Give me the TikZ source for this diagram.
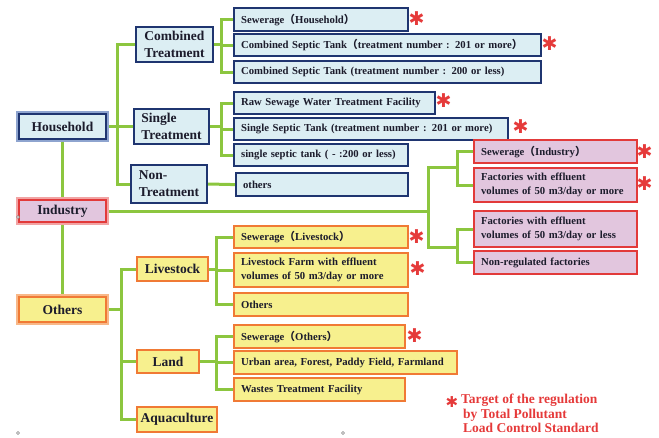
\documentclass[tikz,border=0pt]{standalone}
\usepackage{fontspec}
\usetikzlibrary{backgrounds}
\setmainfont{Liberation Serif}
\newfontfamily\cjk{Noto Sans CJK SC}
\newfontfamily\dejavu{DejaVu Sans}
\definecolor{bfill}{HTML}{DCEEF3}
\definecolor{bline}{HTML}{1F3570}
\definecolor{bhalo}{HTML}{8EA4CF}
\definecolor{pfill}{HTML}{E2C6DE}
\definecolor{pline}{HTML}{E23A3A}
\definecolor{phalo}{HTML}{F2A4A4}
\definecolor{yfill}{HTML}{F7F08E}
\definecolor{yline}{HTML}{F07A35}
\definecolor{yhalo}{HTML}{F8B888}
\definecolor{gr}{HTML}{8CC63F}
\definecolor{txt}{HTML}{1C1C2C}
\definecolor{ared}{HTML}{E53A3A}
\newcommand\fp[1]{{\cjk （}#1{\cjk ）}}
\tikzset{
  gline/.style={draw=gr, line width=3pt},
  boxbase/.style={line width=2.2pt, text=txt, font=\bfseries\fontsize{10.7}{13.5}\selectfont, inner xsep=7pt, inner ysep=0pt, align=left},
  bbox/.style={boxbase, draw=bline, fill=bfill},
  pbox/.style={boxbase, draw=pline, fill=pfill},
  ybox/.style={boxbase, draw=yline, fill=yfill},
  mainfont/.style={font=\bfseries\fontsize{13.5}{17}\selectfont, text=txt, inner sep=0pt, line width=2.4pt},
  topb/.style={mainfont, draw=bline, fill=bfill, preaction={draw=bhalo, line width=5.5pt}},
  topp/.style={mainfont, draw=pline, fill=pfill, preaction={draw=phalo, line width=5.5pt}},
  topy/.style={mainfont, draw=yline, fill=yfill, preaction={draw=yhalo, line width=5.5pt}},
  midb/.style={mainfont, draw=bline, fill=bfill, align=left},
  midy/.style={mainfont, draw=yline, fill=yfill, align=left},
  ast/.style={text=ared, font=\dejavu\bfseries\fontsize{19}{19}\selectfont, inner sep=0pt},
  handle/.style={draw=gray, line width=0.5pt, fill=white}
}
\newcommand\leaf[7]{%
  \pgfmathsetlengthmacro\tw{#4pt-14pt}%
  \node[#6, minimum width=#4pt, minimum height=#5pt, text width=\tw, anchor=north west] (#1) at (#2,#3) {#7};}
\begin{document}
\begin{tikzpicture}[x=1pt,y=-1pt]
\useasboundingbox (0,0) rectangle (659,437);
% top level
\node[topb, minimum width=87pt, minimum height=25pt] (HH) at (62.5,126.5) {Household};
\node[topp, minimum width=87pt, minimum height=22pt] (IN) at (62.5,211) {Industry};
\node[topy, minimum width=87pt, minimum height=25pt] (OT) at (62.5,309.5) {Others};
% second level
\node[midb, minimum width=77pt, minimum height=35pt] (CT) at (174.5,44.5) {Combined\\Treatment};
\node[midb, minimum width=75pt, minimum height=35pt] (ST) at (171.5,126.5) {Single\\Treatment};
\node[midb, minimum width=76pt, minimum height=38pt] (NT) at (169,184) {Non-\\Treatment};
\node[midy, minimum width=71pt, minimum height=24pt] (LV) at (172.5,269) {Livestock};
\node[midy, minimum width=62pt, minimum height=23pt] (LD) at (168,361.5) {Land};
\node[midy, minimum width=80pt, minimum height=25pt] (AQ) at (177,419.5) {Aquaculture};
% leaves
\leaf{c1}{233}{7}{174}{23}{bbox}{Sewerage\fp{Household}}
\leaf{c2}{233}{33}{307}{22}{bbox}{Combined Septic Tank\fp{treatment number : 201 or more}}
\leaf{c3}{233}{60}{307}{22}{bbox}{Combined Septic Tank (treatment number : 200 or less)}
\leaf{s1}{233}{91}{201}{22}{bbox}{Raw Sewage Water Treatment Facility}
\leaf{s2}{233}{117}{274}{22}{bbox}{Single Septic Tank (treatment number : 201 or more)}
\leaf{s3}{233}{143}{174}{22}{bbox}{single septic tank ( - :200 or less)}
\leaf{n1}{235}{172}{172}{23}{bbox}{others}
\leaf{i1}{473}{139}{163}{23}{pbox}{Sewerage\fp{Industry}}
\leaf{i2}{473}{167}{163}{34}{pbox}{Factories with effluent\\volumes of 50 m3/day or more}
\leaf{i3}{473}{210}{163}{36}{pbox}{Factories with effluent\\volumes of 50 m3/day or less}
\leaf{i4}{473}{250}{163}{23}{pbox}{Non-regulated factories}
\leaf{l1}{233}{225}{174}{22}{ybox}{Sewerage\fp{Livestock}}
\leaf{l2}{233}{252}{174}{34}{ybox}{Livestock Farm with effluent\\volumes of 50 m3/day or more}
\leaf{l3}{233}{292}{174}{23}{ybox}{Others}
\leaf{d1}{233}{324}{171}{23}{ybox}{Sewerage\fp{Others}}
\leaf{d2}{233}{350}{223}{23}{ybox}{Urban area, Forest, Paddy Field, Farmland}
\leaf{d3}{233}{377}{171}{23}{ybox}{Wastes Treatment Facility}
% branch coordinates
\coordinate (b1) at (117,0);
\coordinate (b2) at (221,0);
\coordinate (b3) at (428,0);
\coordinate (b4) at (121,0);
\coordinate (b5) at (216,0);
\coordinate (ja) at (457,167);
\coordinate (jb) at (457,247);
% connectors
\begin{scope}[on background layer]
\draw[gline] (HH.south) -- (IN.north);
\draw[gline] (IN.south) -- (OT.north);
\draw[gline] (HH.east) -- (HH.east -| b1) |- (CT.west);
\draw[gline] (HH.east -| b1) |- (ST.west);
\draw[gline] (HH.east -| b1) |- (NT.west);
\draw[gline] (CT.east) -- (CT.east -| b2) |- (c1.west);
\draw[gline] (CT.east -| b2) |- (c2.west);
\draw[gline] (CT.east -| b2) |- (c3.west);
\draw[gline] (ST.east) -- (ST.east -| b2) |- (s1.west);
\draw[gline] (ST.east -| b2) |- (s2.west);
\draw[gline] (ST.east -| b2) |- (s3.west);
\draw[gline] (NT.east) -- (n1.west);
\draw[gline] (IN.east) -- (IN.east -| b3) |- (ja);
\draw[gline] (IN.east -| b3) |- (jb);
\draw[gline] (ja) |- (i1.west);
\draw[gline] (ja) |- (i2.west);
\draw[gline] (jb) |- (i3.west);
\draw[gline] (jb) |- (i4.west);
\draw[gline] (OT.east) -- (OT.east -| b4) |- (LV.west);
\draw[gline] (OT.east -| b4) |- (LD.west);
\draw[gline] (OT.east -| b4) |- (AQ.west);
\draw[gline] (LV.east) -- (LV.east -| b5) |- (l1.west);
\draw[gline] (LV.east -| b5) |- (l2.west);
\draw[gline] (LV.east -| b5) |- (l3.west);
\draw[gline] (LD.east) -- (LD.east -| b5) |- (d1.west);
\draw[gline] (LD.east -| b5) |- (d2.west);
\draw[gline] (LD.east -| b5) |- (d3.west);
\end{scope}
% asterisks
\node[ast] (a1) at (416.5,19) {✱};
\node[ast] (a2) at (549.5,44) {✱};
\node[ast] (a3) at (443.5,101) {✱};
\node[ast] (a4) at (520.5,127) {✱};
\node[ast] (a5) at (644.5,152) {✱};
\node[ast] (a6) at (644.5,184) {✱};
\node[ast] (a7) at (416.5,237) {✱};
\node[ast] (a8) at (417.5,269) {✱};
\node[ast] (a9) at (414.5,336) {✱};
% legend
\node[ast, font=\dejavu\bfseries\fontsize{15}{15}\selectfont] (la) at (452,402) {✱};
\node[anchor=north west, inner sep=0pt, text=ared, align=left, font=\bfseries\fontsize{13.5}{14.5}\selectfont] (lt) at (461,394) {Target of the regulation\\\hspace*{2pt}by Total Pollutant\\\hspace*{2pt}Load Control Standard};
% handles
\node[handle, circle, inner sep=0pt, minimum size=3pt] (h1) at (18,217) {};
\node[handle, circle, inner sep=0pt, minimum size=3pt] (h2) at (18,433) {};
\node[handle, circle, inner sep=0pt, minimum size=3pt] (h3) at (343,433) {};
\end{tikzpicture}
\end{document}
